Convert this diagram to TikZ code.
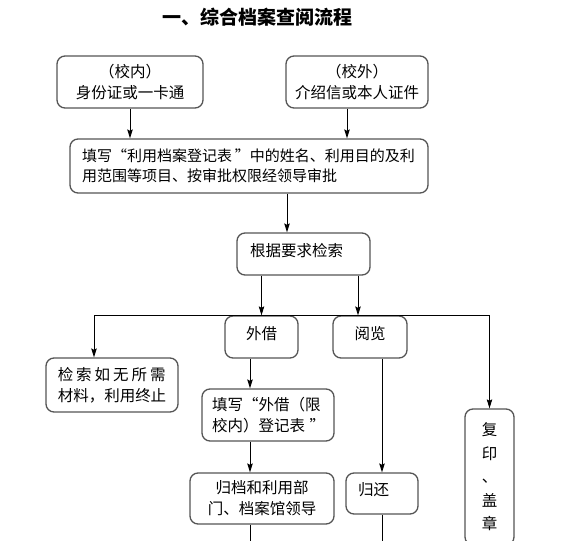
\documentclass[tikz,border=0pt]{standalone}
\usepackage{fontspec}
\setmainfont{Noto Sans CJK SC}
\usetikzlibrary{arrows.meta}
\definecolor{boxgray}{RGB}{85,85,85}
\newcommand{\myLQ}{\makebox[1em][r]{“}}
\newcommand{\myRQ}{\makebox[1em][l]{”}}
\tikzset{
  box/.style={draw=boxgray, line width=1.3pt, rounded corners=8pt, inner sep=0pt,
    font=\fontsize{15.5}{21}\selectfont},
  one/.style={text height=12pt, text depth=8pt},
  conn/.style={draw=black, line width=0.9pt},
  arr/.style={conn, -{Stealth[length=9pt,width=5.5pt,inset=1.5pt]}},
  titlestyle/.style={font=\fontsize{19}{23}\selectfont\bfseries, inner sep=0pt},
}
\begin{document}
\begin{tikzpicture}[x=1pt,y=-1pt]
\useasboundingbox (0,0) rectangle (571,541);
\clip (0,0) rectangle (571,541);
\node[titlestyle] (T) at (257,17) {一、综合档案查阅流程};
\node[box, minimum width=146pt, minimum height=52pt, align=center] (A) at (130,82) {（校内）\\身份证或一卡通};
\node[box, minimum width=142pt, minimum height=52pt, align=center] (B) at (357,82) {（校外）\\介绍信或本人证件};
\node[box, minimum width=358pt, minimum height=54pt, text width=334pt, align=left, font=\fontsize{15}{20}\selectfont] (C) at (249,166) {填写\myLQ 利用档案登记表\kern0.2em\myRQ 中的姓名、利用目的及利\\用范围等项目、按审批权限经领导审批};
\node[box, one, minimum width=133pt, minimum height=42pt, text width=107pt, align=left] (D) at (303.5,254) {根据要求检索};
\node[box, one, minimum width=73pt, minimum height=42pt] (W) at (261.5,337) {外借};
\node[box, one, minimum width=74pt, minimum height=42pt] (Y) at (370,337) {阅览};
\node[box, minimum width=132pt, minimum height=54pt, align=left] (E) at (112,385) {\hbox to 108pt{检\hfill 索\hfill 如\hfill 无\hfill 所\hfill 需}\\材料，利用终止};
\node[box, minimum width=132pt, minimum height=52pt, text width=112pt, align=left] (F) at (268,415) {填写\myLQ 外借（限\\校内）登记表\kern0.3em\myRQ};
\node[box, minimum width=144pt, minimum height=51pt, align=center] (G) at (262,498.5) {归档和利用部\\门、档案馆领导};
\node[box, one, minimum width=72pt, minimum height=41pt, text width=48pt, align=left] (H) at (382,493.5) {归还};
\node[box, minimum width=49pt, minimum height=136pt, align=center, font=\fontsize{15.5}{23.5}\selectfont] (I) at (489.5,477) {复\\印\\、\\盖\\章};
% connectors
\draw[arr] (A.south) -- (A.south |- C.north);
\coordinate (bx) at ([xshift=-10pt]B.south);
\draw[arr] (bx) -- (bx |- C.north);
\coordinate (dx) at ([xshift=-16.5pt]D.north);
\draw[arr] (dx |- C.south) -- (dx);
\draw[arr] (W.north |- D.south) -- (W.north);
\coordinate (yx) at ([xshift=-12pt]Y.north);
\draw[arr] (yx |- D.south) -- (yx);
\coordinate (ex) at ([xshift=-18pt]E.north);
\draw[arr] (W.north) -| (ex);
\draw[arr] (W.north) -| (I.north);
\coordinate (wx) at ([xshift=-11.5pt]W.south);
\draw[arr] (wx) -- (wx |- F.north);
\draw[arr] (wx |- F.south) -- (wx |- G.north);
\coordinate (gend) at (250,545);
\draw[conn] (wx |- G.south) -- (gend);
\draw[arr] (H.north |- Y.south) -- (H.north);
\coordinate (hend) at (382,545);
\draw[conn] (H.south) -- (hend);
\end{tikzpicture}
\end{document}
